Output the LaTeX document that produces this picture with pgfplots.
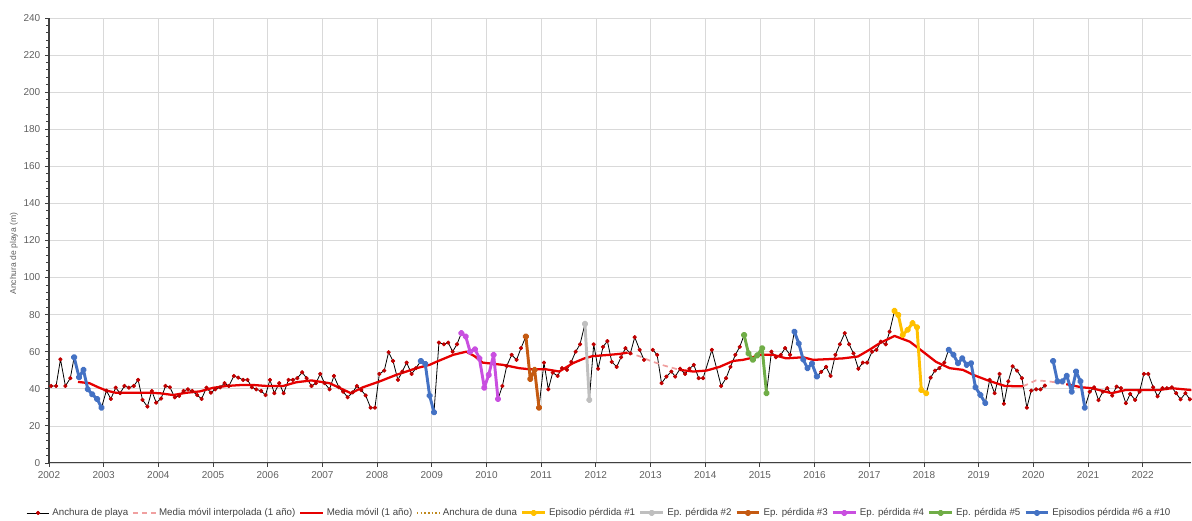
\documentclass[border=0pt]{standalone}
\usepackage{pgfplots}
\pgfplotsset{compat=1.18}
\usepackage{fontspec}
\setmainfont{Liberation Sans}

\definecolor{axisgrey}{HTML}{404040}
\definecolor{gridgrey}{HTML}{D9D9D9}
\definecolor{gridlight}{HTML}{E8E8E8}
\definecolor{labelgrey}{HTML}{606060}
\definecolor{legendgrey}{HTML}{404040}
\definecolor{playared}{HTML}{C00000}
\definecolor{mared}{HTML}{E60000}
\definecolor{mapink}{HTML}{F0A0A0}
\definecolor{duna}{HTML}{C08A1F}
\definecolor{epyellow}{HTML}{FFC000}
\definecolor{epgrey}{HTML}{BFBFBF}
\definecolor{eporange}{HTML}{C55A11}
\definecolor{epmagenta}{HTML}{C94FE0}
\definecolor{epgreen}{HTML}{70AD47}
\definecolor{epblue}{HTML}{4472C4}

% beach width, monthly survey
\pgfplotstableread{
x y
2002.04 41.5
2002.13 41.5
2002.21 55.9
2002.30 41.5
2002.39 45.7
2002.46 57.0
2002.55 46.2
2002.63 50.2
2002.71 39.7
2002.79 37.0
2002.88 34.5
2002.96 29.8
2003.05 39.0
2003.13 34.5
2003.22 40.6
2003.30 37.6
2003.38 41.5
2003.46 40.6
2003.55 41.5
2003.63 44.8
2003.71 34.0
2003.80 30.4
2003.88 38.8
2003.96 32.5
2004.05 34.7
2004.13 41.5
2004.21 40.8
2004.30 35.4
2004.38 36.2
2004.46 38.8
2004.54 39.7
2004.62 38.8
2004.71 36.6
2004.79 34.5
2004.88 40.6
2004.96 37.9
2005.04 39.7
2005.13 40.8
2005.21 43.0
2005.29 41.5
2005.38 46.9
2005.46 46.0
2005.55 44.8
2005.63 44.8
2005.71 40.8
2005.79 39.7
2005.88 38.8
2005.96 36.6
2006.04 44.8
2006.12 37.6
2006.21 43.0
2006.29 37.6
2006.38 44.8
2006.46 44.8
2006.54 45.7
2006.63 48.9
2006.71 45.7
2006.80 41.5
2006.88 43.0
2006.96 48.0
2007.04 43.0
2007.13 39.7
2007.21 46.9
2007.30 40.8
2007.38 38.4
2007.46 35.4
2007.55 38.0
2007.63 41.5
2007.71 39.3
2007.79 36.4
2007.88 29.8
2007.96 29.8
2008.04 48.0
2008.13 49.8
2008.21 59.7
2008.29 55.0
2008.38 44.8
2008.46 49.3
2008.54 54.1
2008.63 48.0
2008.71 51.1
2008.80 55.0
2008.88 53.4
2008.96 36.3
2009.04 27.3
2009.13 64.9
2009.22 64.0
2009.30 64.9
2009.38 60.0
2009.46 64.0
2009.54 70.0
2009.62 68.2
2009.70 60.0
2009.79 61.3
2009.87 56.4
2009.96 40.6
2010.04 47.5
2010.13 58.3
2010.21 34.5
2010.29 41.5
2010.37 52.3
2010.46 58.3
2010.55 55.6
2010.63 61.9
2010.72 68.2
2010.80 45.3
2010.88 50.2
2010.96 29.8
2011.05 54.1
2011.13 39.7
2011.21 48.7
2011.30 46.9
2011.38 51.1
2011.47 50.2
2011.55 54.5
2011.63 60.0
2011.71 64.0
2011.80 75.0
2011.88 34.0
2011.96 64.0
2012.04 50.8
2012.13 62.6
2012.21 65.7
2012.29 54.5
2012.38 51.8
2012.46 57.0
2012.54 61.9
2012.63 59.1
2012.71 67.8
2012.80 61.0
2012.88 55.6
nan nan
2013.04 61.0
2013.12 58.3
2013.20 43.0
2013.29 46.6
2013.38 49.3
2013.45 46.6
2013.54 50.8
2013.63 48.0
2013.71 50.8
2013.79 52.9
2013.88 45.7
2013.96 45.7
2014.12 61.0
2014.29 41.5
2014.38 45.7
2014.46 51.8
2014.55 58.3
2014.63 62.6
2014.71 69.0
2014.79 59.1
2014.87 55.6
2014.95 58.0
2015.04 61.9
2015.12 37.6
2015.21 60.0
2015.29 57.0
2015.38 58.3
2015.46 61.9
2015.55 58.3
2015.63 70.8
2015.71 64.4
2015.79 55.8
2015.87 51.1
2015.95 53.6
2016.04 46.6
2016.12 49.1
2016.21 51.8
2016.29 46.9
2016.38 58.3
2016.46 64.0
2016.55 70.0
2016.63 64.0
2016.71 59.1
2016.80 50.8
2016.88 54.1
2016.96 54.1
2017.05 60.0
2017.13 61.0
2017.21 65.4
2017.30 64.0
2017.37 70.8
2017.46 82.0
2017.53 79.8
2017.61 69.0
2017.70 71.8
2017.79 75.4
2017.87 73.2
2017.95 39.4
2018.04 37.6
2018.12 46.0
2018.20 49.8
2018.28 51.1
2018.37 54.1
2018.45 61.0
2018.54 58.3
2018.62 53.8
2018.70 56.4
2018.78 52.9
2018.86 53.8
2018.94 40.8
2019.03 36.7
2019.12 32.3
2019.20 44.8
2019.29 37.6
2019.38 48.0
2019.46 31.9
2019.54 44.0
2019.62 52.1
2019.70 49.8
2019.79 45.7
2019.88 29.8
2019.96 39.0
2020.05 39.7
2020.13 39.7
2020.21 41.7
nan nan
2020.36 55.0
2020.44 44.0
2020.53 44.0
2020.61 47.0
2020.70 38.4
2020.78 49.3
2020.86 44.0
2020.94 29.8
2021.03 38.4
2021.11 40.8
2021.19 33.9
2021.27 38.4
2021.35 40.3
2021.44 36.3
2021.52 41.2
2021.60 40.3
2021.69 32.2
2021.77 37.2
2021.86 34.0
2021.94 38.4
2022.02 48.0
2022.10 48.0
2022.19 40.8
2022.27 35.9
2022.36 40.3
2022.44 40.3
2022.53 40.8
2022.61 37.6
2022.69 34.3
2022.78 37.6
2022.86 34.3
}\playa

% one-year moving average (gaps where the window is incomplete)
\pgfplotstableread{
x y
2002.53 43.7
2002.74 43.0
2002.90 40.8
2003.05 39.0
2003.23 37.8
2003.50 37.8
2003.84 37.9
2004.05 37.5
2004.27 36.6
2004.50 37.8
2004.76 38.6
2005.00 40.5
2005.24 41.5
2005.50 42.0
2005.75 42.0
2005.98 41.5
2006.28 41.5
2006.52 43.5
2006.80 44.5
2007.13 43.0
2007.37 39.7
2007.52 37.6
2007.74 40.8
2008.04 43.9
2008.35 47.5
2008.72 51.1
2008.96 52.9
2009.08 54.5
2009.39 58.3
2009.63 60.0
2009.78 57.6
2009.93 54.1
2010.30 52.9
2010.60 51.1
2010.79 50.5
2011.09 50.5
2011.33 49.3
2011.58 53.8
2011.79 56.4
2011.94 57.6
2012.25 58.3
2012.43 58.8
2012.58 59.5
nan nan
2013.53 50.2
2013.78 49.3
2014.02 49.8
2014.26 51.8
2014.51 55.0
2014.69 55.6
2014.81 56.4
2014.99 58.3
2015.24 58.3
2015.48 56.4
2015.79 57.0
2015.97 55.6
2016.27 56.0
2016.52 56.4
2016.79 57.4
2017.00 61.0
2017.19 64.6
2017.46 68.5
2017.74 65.4
2017.98 60.0
2018.22 54.5
2018.47 51.1
2018.71 50.2
2018.90 47.5
2019.14 44.8
2019.32 43.0
2019.48 41.5
2019.81 41.3
nan nan
2020.60 42.5
2020.88 40.8
2021.07 40.3
2021.43 37.6
2021.68 39.3
2021.98 39.3
2022.29 39.3
2022.53 40.3
2022.89 39.3
}\media

% interpolated stretches of the moving average
\pgfplotstableread{
x y
2012.58 59.5
2012.80 57.5
2013.00 55.0
2013.25 52.5
2013.53 50.2
nan nan
2019.81 41.3
2020.05 44.6
2020.27 44.0
2020.45 43.3
2020.60 42.5
}\mediainterp

\pgfplotstableread{
x y
2017.46 82.0
2017.53 79.8
2017.61 69.0
2017.70 71.8
2017.79 75.4
2017.87 73.2
2017.95 39.4
2018.04 37.6
}\epuno

\pgfplotstableread{
x y
2011.80 75.0
2011.88 34.0
}\epdos

\pgfplotstableread{
x y
2010.72 68.2
2010.80 45.3
2010.88 50.2
2010.96 29.8
}\eptres

\pgfplotstableread{
x y
2009.54 70.0
2009.62 68.2
2009.70 60.0
2009.79 61.3
2009.87 56.4
2009.96 40.6
2010.04 47.5
2010.13 58.3
2010.21 34.5
}\epcuatro

\pgfplotstableread{
x y
2014.71 69.0
2014.79 59.1
2014.87 55.6
2014.95 58.0
2015.04 61.9
2015.12 37.6
}\epcinco

\pgfplotstableread{
x y
2002.46 57.0
2002.55 46.2
2002.63 50.2
2002.71 39.7
2002.79 37.0
2002.88 34.5
2002.96 29.8
nan nan
2008.80 55.0
2008.88 53.4
2008.96 36.3
2009.04 27.3
nan nan
2015.63 70.8
2015.71 64.4
2015.79 55.8
2015.87 51.1
2015.95 53.6
2016.04 46.6
nan nan
2018.45 61.0
2018.54 58.3
2018.62 53.8
2018.70 56.4
2018.78 52.9
2018.86 53.8
2018.94 40.8
2019.03 36.7
2019.12 32.3
nan nan
2020.36 55.0
2020.44 44.0
2020.53 44.0
2020.61 47.0
2020.70 38.4
2020.78 49.3
2020.86 44.0
2020.94 29.8
}\epresto

\begin{document}
\begin{tikzpicture}
\begin{axis}[
  scale only axis,
  width=857pt, height=333.75pt,
  xmin=2002, xmax=2022.89, ymin=0, ymax=240,
  axis x line=bottom, axis y line=left,
  axis line style={-, draw=axisgrey, line width=0.8pt},
  xtick={2002,...,2022}, ytick={0,20,...,240},
  minor x tick num=3, minor y tick num=4,
  xmajorgrids, xminorgrids, ymajorgrids,
  major grid style={draw=gridgrey, line width=0.5pt},
  minor grid style={draw=gridlight, line width=0.5pt},
  tick align=outside, major tick length=3pt, minor tick length=2pt,
  tick style={draw=axisgrey, line width=0.6pt},
  ticklabel style={font=\fontsize{7.5}{9}\selectfont, text=labelgrey},
  /pgf/number format/1000 sep={},
  /pgf/number format/assume math mode=true,
  ylabel={Anchura de playa (m)},
  ylabel style={at={(axis description cs:-0.0306,0.47)}, anchor=center,
    font=\fontsize{6.4}{7.5}\selectfont, text=labelgrey},
  legend style={at={(axis description cs:0.482,-0.1124)}, anchor=center,
    draw=none, fill=none, inner sep=0pt,
    font=\fontsize{7.3}{9}\selectfont, text=legendgrey,
    /tikz/every even column/.append style={column sep=0.8pt}},
  legend columns=-1,
  unbounded coords=jump,
  line join=round,
  ep/.style={line width=2.2pt, mark=*, mark size=1.4pt, mark options={solid}},
]
\addplot[black, line width=0.6pt, mark=*, mark size=1.3pt,
  mark options={draw=playared, fill=playared}] table {\playa};
\addlegendentry{Anchura de playa}

\addplot[mapink, line width=1.3pt, dash pattern=on 4pt off 3pt] table {\mediainterp};
\addlegendentry{Media móvil interpolada (1 año)}

\addplot[mared, line width=1.7pt] table {\media};
\addlegendentry{Media móvil (1 año)}

% dune width: no surveys in this period, legend entry only
\addlegendimage{color=duna, draw=duna, line width=1.1pt, dash pattern=on 1.2pt off 1.6pt}
\addlegendentry{Anchura de duna}

\addplot[epyellow, ep] table {\epuno};
\addlegendentry{Episodio pérdida \#1}

\addplot[epgrey, ep] table {\epdos};
\addlegendentry{Ep. pérdida \#2}

\addplot[eporange, ep] table {\eptres};
\addlegendentry{Ep. pérdida \#3}

\addplot[epmagenta, ep] table {\epcuatro};
\addlegendentry{Ep. pérdida \#4}

\addplot[epgreen, ep] table {\epcinco};
\addlegendentry{Ep. pérdida \#5}

\addplot[epblue, ep] table {\epresto};
\addlegendentry{Episodios pérdida \#6 a \#10}

\coordinate (bl) at (rel axis cs:0,0);
\coordinate (tr) at (rel axis cs:1,1);
\end{axis}
\path ([xshift=-36.75pt, yshift=-42pt]bl) rectangle ([yshift=13.5pt]tr);
\end{tikzpicture}
\end{document}
